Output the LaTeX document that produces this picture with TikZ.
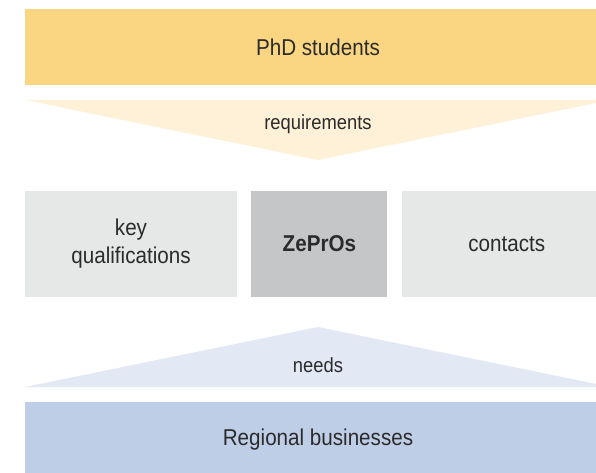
\documentclass[tikz,border=0pt]{standalone}
\usepackage{fontspec}
\setmainfont{Liberation Sans}[FakeStretch=0.9]
\usepackage{tikz}
\usetikzlibrary{positioning}

\definecolor{phdyellow}{HTML}{FAD682}
\definecolor{reqyellow}{HTML}{FEF1D8}
\definecolor{boxgray}{HTML}{E6E7E7}
\definecolor{zepgray}{HTML}{C5C6C8}
\definecolor{needblue}{HTML}{E3E8F5}
\definecolor{bizblue}{HTML}{BFCEE7}
\definecolor{textgray}{HTML}{2B2B2B}

\begin{document}
\begin{tikzpicture}[x=1bp,y=-1bp,node distance=14bp,
  text=textgray,
  band/.style={inner sep=0pt,minimum width=586bp,minimum height=76bp,font=\fontsize{23}{28}\selectfont},
  main box/.style={inner sep=0pt,minimum height=106bp,fill=boxgray,align=center,font=\fontsize{23}{28}\selectfont},
  flow label/.style={inner sep=0pt,font=\fontsize{20.5}{24}\selectfont}]

  \useasboundingbox (0,0) rectangle (596,473);
  \clip (0,0) rectangle (596,473);

  \node[band,fill=phdyellow] (phd) at (318,47) {PhD students};

  \fill[reqyellow] (25,100) -- (611,100) -- (318,160) -- cycle;
  \node[flow label] (req) at (318,124) {requirements};

  \node[main box,minimum width=212bp] (kq) at (131,244) {key\\qualifications};
  \node[main box,minimum width=136bp,fill=zepgray,font=\fontsize{23}{28}\selectfont\bfseries] (zep) [right=14bp of kq] {ZePrOs};
  \node[main box,minimum width=210bp] (cont) [right=14bp of zep] {contacts};

  \fill[needblue] (25,387) -- (611,387) -- (318,327) -- cycle;
  \node[flow label] (needs) at (318,365) {needs};

  \node[band,fill=bizblue] (biz) at (318,440) {Regional businesses};
\end{tikzpicture}
\end{document}
